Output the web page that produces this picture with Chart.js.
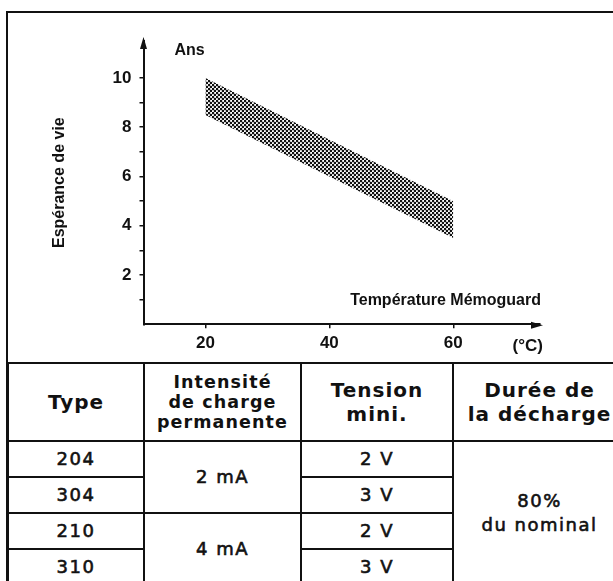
<!DOCTYPE html>
<html lang="fr">
<head>
<meta charset="utf-8">
<script src="https://cdn.jsdelivr.net/npm/chart.js@4.4.1/dist/chart.umd.min.js"></script>
<style>
    html, body { margin: 0; padding: 0; background: #fff; }
    body { width: 613px; height: 581px; position: relative; overflow: hidden; color: #111; }
    #zone-graph { position: absolute; left: 0; top: 0; width: 613px; height: 362px; }
    #cadre { position: absolute; left: 6px; top: 11px; width: 700px; height: 700px;
             border-left: 2px solid #111; border-top: 2px solid #111; pointer-events: none; }
    #tableau { position: absolute; left: 7px; top: 362px; border-collapse: collapse; table-layout: fixed;
               width: 640px; font-family: "DejaVu Sans", sans-serif; }
    #tableau th, #tableau td { border: 2px solid #111; padding: 0; text-align: center; vertical-align: middle; }
    #tableau th { font-weight: bold; font-size: 20px; letter-spacing: 1px; line-height: 24px; height: 76px; }
    #tableau th.serre { font-size: 17.5px; letter-spacing: 1.1px; line-height: 20px; }
    #tableau td { font-size: 18px; letter-spacing: 1.5px; line-height: 24px; height: 34px;
                  -webkit-text-stroke: 0.6px #111; }
    #tableau .derniere { padding-right: 22px; }
</style>
</head>
<body>
<div id="zone-graph"><canvas id="chartVie" width="613" height="362"></canvas></div>

<table id="tableau">
    <colgroup>
        <col style="width:136px"><col style="width:157px"><col style="width:152px"><col style="width:195px">
    </colgroup>
    <tr>
        <th>Type</th>
        <th class="serre">Intensité<br>de charge<br>permanente</th>
        <th>Tension<br>mini.</th>
        <th class="derniere">Durée de<br>la décharge</th>
    </tr>
    <tr><td>204</td><td rowspan="2">2 mA</td><td>2 V</td><td class="derniere" rowspan="4">80%<br>du nominal</td></tr>
    <tr><td>304</td><td>3 V</td></tr>
    <tr><td>210</td><td rowspan="2">4 mA</td><td>2 V</td></tr>
    <tr><td>310</td><td>3 V</td></tr>
</table>

<div id="cadre"></div>

<script>
// Données (bande d'espérance de vie)
const temperatures = [20, 60];
const vieHaute = [10, 5];
const vieBasse = [8.5, 3.5];

// Graduations
const ticksTemp = [20, 40, 60];
const ticksAns = [1, 2, 3, 4, 5, 6, 7, 8, 9, 10];
const labelsAns = [2, 4, 6, 8, 10];

const police = '"Liberation Sans", Arial, sans-serif';
const noir = '#111';

// Motif pointillé pour remplir la bande
function creerMotif(ctx) {
    const c = document.createElement('canvas');
    c.width = 4; c.height = 4;
    const g = c.getContext('2d');
    g.fillStyle = noir;
    [[1, 1], [3, 3]].forEach(([x, y]) => {
        g.beginPath();
        g.arc(x, y, 1.3, 0, Math.PI * 2);
        g.fill();
    });
    return ctx.createPattern(c, 'repeat');
}

// Flèches des axes et libellés
const annotationsAxes = {
    id: 'annotationsAxes',
    afterDraw(chart) {
        const { ctx, chartArea: { left, right, top, bottom } } = chart;
        ctx.save();
        ctx.fillStyle = noir;
        ctx.beginPath();
        ctx.moveTo(left, top - 4);
        ctx.lineTo(left - 3.5, top + 8);
        ctx.lineTo(left + 3.5, top + 8);
        ctx.closePath();
        ctx.fill();

        ctx.beginPath();
        ctx.moveTo(right + 3, bottom + 1);
        ctx.lineTo(right - 9, bottom - 2.5);
        ctx.lineTo(right - 9, bottom + 4.5);
        ctx.closePath();
        ctx.fill();

        ctx.textBaseline = 'middle';
        ctx.font = 'bold 16px ' + police;
        ctx.textAlign = 'left';
        ctx.fillText('Ans', left + 31, top + 10);
        ctx.textAlign = 'right';
        ctx.fillText('Température Mémoguard', right + 1, bottom - 24);
        ctx.font = 'bold 17px ' + police;
        ctx.fillText('(°C)', right + 3, bottom + 22);
        ctx.restore();
    }
};

const ctx = document.getElementById('chartVie').getContext('2d');

new Chart(ctx, {
    type: 'line',
    data: {
        datasets: [
            {
                label: 'Minimum',
                data: temperatures.map((t, i) => ({ x: t, y: vieBasse[i] })),
                borderWidth: 0,
                pointRadius: 0,
                fill: false
            },
            {
                label: 'Maximum',
                data: temperatures.map((t, i) => ({ x: t, y: vieHaute[i] })),
                borderWidth: 0,
                pointRadius: 0,
                backgroundColor: creerMotif(ctx),
                fill: '-1'
            }
        ]
    },
    options: {
        responsive: false,
        devicePixelRatio: 1,
        animation: false,
        layout: { padding: { left: 0, right: 73, top: 41, bottom: 0 } },
        plugins: { legend: { display: false }, tooltip: { enabled: false } },
        scales: {
            x: {
                type: 'linear',
                min: 10,
                max: 74,
                afterBuildTicks: s => { s.ticks = ticksTemp.map(v => ({ value: v })); },
                afterFit: s => { s.height = 37.7; },
                border: { display: true, color: noir, width: 2 },
                grid: { drawOnChartArea: false, tickLength: 4, color: noir, lineWidth: 1.5 },
                ticks: { color: noir, font: { family: police, size: 17, weight: 'bold' }, padding: 5, maxRotation: 0, autoSkip: false }
            },
            y: {
                min: 0,
                max: 11.5,
                afterBuildTicks: s => { s.ticks = ticksAns.map(v => ({ value: v })); },
                afterFit: s => { s.width = 143.5; },
                border: { display: true, color: noir, width: 2 },
                grid: { drawOnChartArea: false, tickLength: 4, color: noir, lineWidth: 1.5 },
                ticks: {
                    color: noir,
                    font: { family: police, size: 17, weight: 'bold' },
                    padding: 8,
                    autoSkip: false,
                    callback: v => labelsAns.includes(v) ? String(v) : ''
                },
                title: {
                    display: true,
                    text: 'Espérance de vie',
                    color: noir,
                    font: { family: police, size: 16, weight: 'bold' },
                    padding: { top: 50, bottom: 0 }
                }
            }
        }
    },
    plugins: [annotationsAxes]
});
</script>
</body>
</html>
